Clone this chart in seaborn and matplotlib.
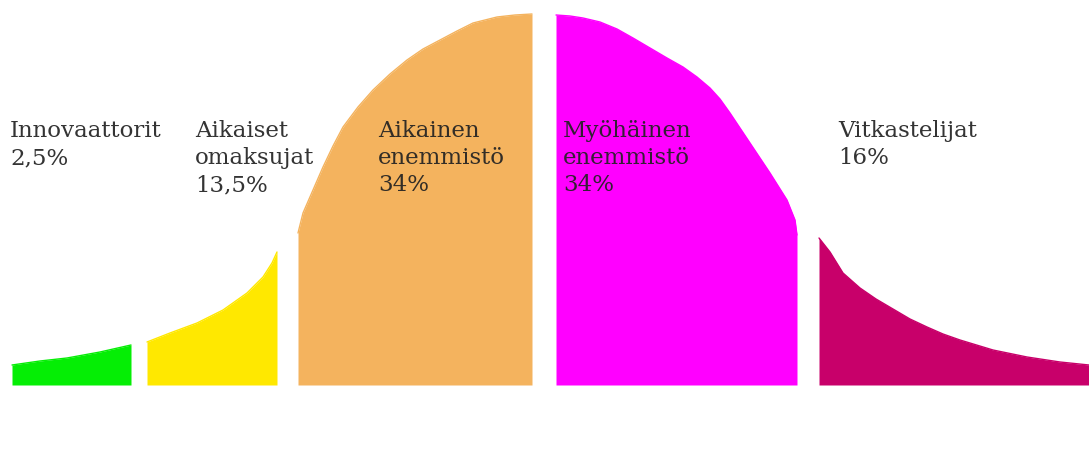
import matplotlib
matplotlib.use("Agg")
import matplotlib.pyplot as plt
import seaborn as sns
import pandas as pd

# Segment names and shares
labels = ["Innovaattorit\n2,5%",
          "Aikaiset\nomaksujat\n13,5%",
          "Aikainen\nenemmistö\n34%",
          "Myöhäinen\nenemmistö\n34%",
          "Vitkastelijat\n16%"]
shares = [2.5, 13.5, 34, 34, 16]
colors = ["#05ee05", "#ffe800", "#f4b35e", "#ff00ff", "#c8006a"]

# Curve profile of each segment (position, height)
green_x = [12, 40, 67, 100, 131]
green_h = [20, 24, 27, 33, 40]
yellow_x = [147, 170, 197, 223, 247, 263, 272, 277]
yellow_h = [43, 52, 62, 75, 92, 108, 122, 133]
orange_x = [298, 303, 313, 323, 333, 343, 358, 373, 390, 407, 423, 440, 457, 473, 497, 515, 532]
orange_h = [152, 172, 195, 218, 239, 258, 278, 295, 311, 325, 336, 345, 354, 362, 368, 370, 371]
magenta_x = [556, 570, 583, 600, 617, 633, 650, 667, 683, 697, 710, 720, 730, 750, 770, 787, 795, 797]
magenta_h = [370, 369, 367, 363, 356, 347, 337, 327, 318, 308, 297, 286, 272, 242, 212, 185, 165, 150]
dark_x = [819, 830, 843, 860, 876, 893, 910, 927, 943, 960, 993, 1027, 1060, 1089]
dark_h = [147, 133, 112, 97, 86, 76, 66, 58, 51, 45, 35, 28, 23, 20]

segments = [(green_x, green_h), (yellow_x, yellow_h), (orange_x, orange_h),
            (magenta_x, magenta_h), (dark_x, dark_h)]
label_x = [10, 195, 378, 563, 838]

sns.set_theme(style="white")
plt.rcParams['font.family'] = ['DejaVu Serif']

fig = plt.figure(figsize=(10.89, 4.49), dpi=100)
ax = fig.add_axes([0, 0, 1, 1])

for (xs, hs), c in zip(segments, colors):
    df = pd.DataFrame({"x": xs, "h": hs})
    ax.fill_between(df["x"], 0, df["h"], color=c, linewidth=0)
    sns.lineplot(data=df, x="x", y="h", color=c, linewidth=1, ax=ax, legend=False)

for lx, lab in zip(label_x, labels):
    ax.text(lx, 265, lab, ha="left", va="top", fontsize=16.5,
            color="#222222", alpha=0.92, linespacing=1.3)

ax.set_xlim(0, 1089)
ax.set_ylim(-64, 385)
ax.axis("off")

fig.savefig("out.png", dpi=100, facecolor="white")
